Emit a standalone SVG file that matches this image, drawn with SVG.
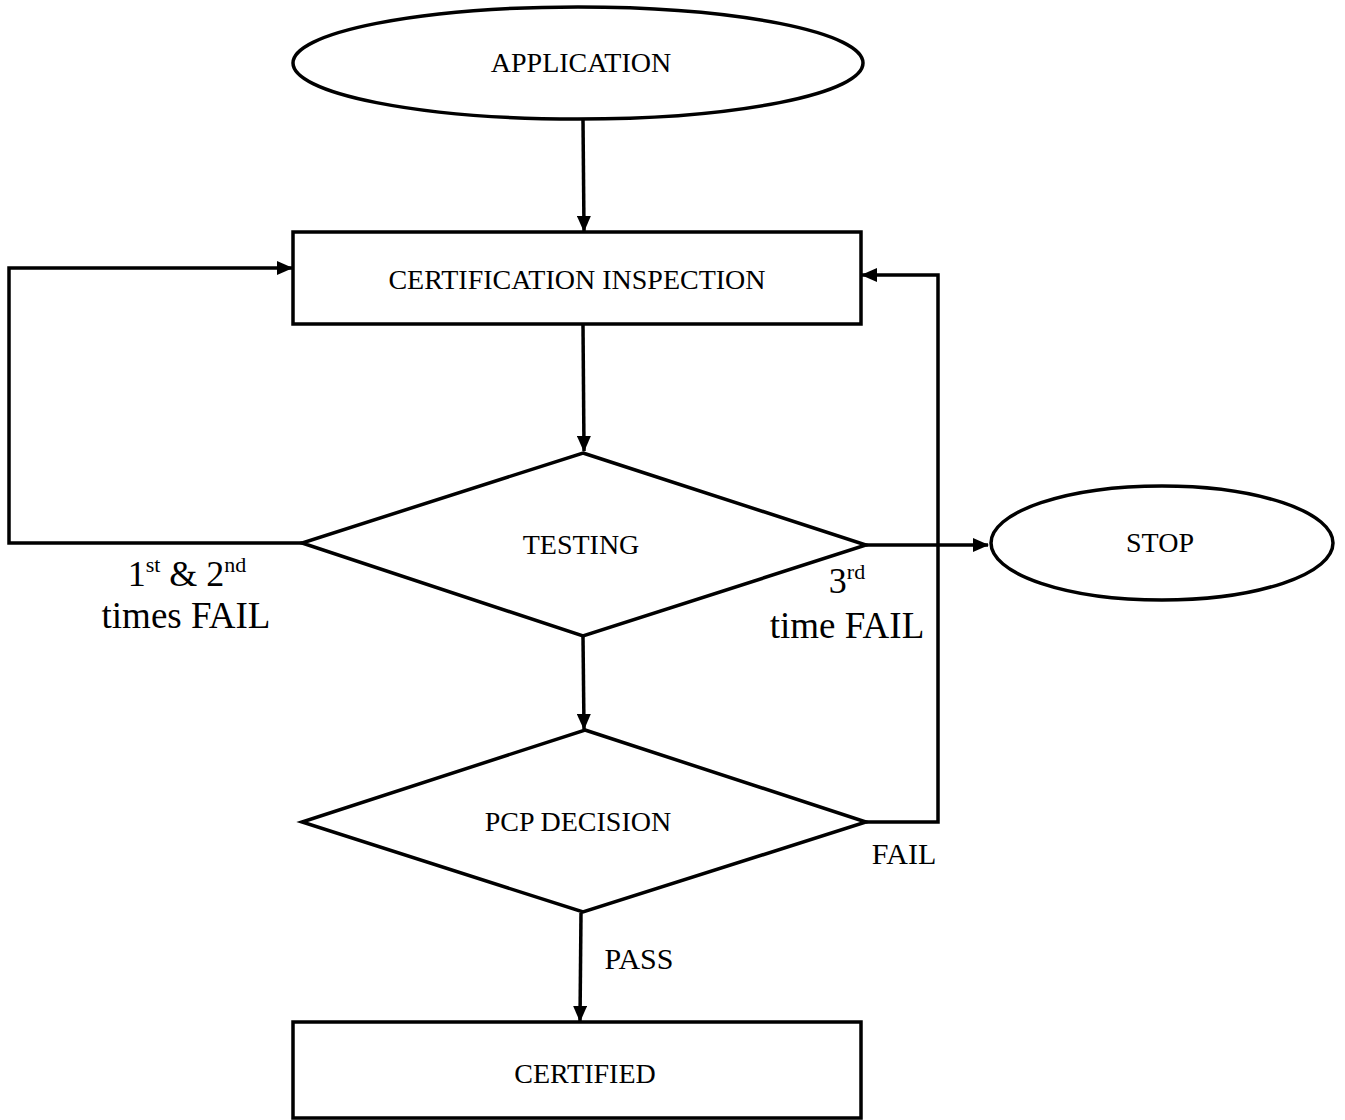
<svg xmlns="http://www.w3.org/2000/svg" width="1345" height="1120" viewBox="0 0 1345 1120">
<defs>
<marker id="ah" markerUnits="userSpaceOnUse" markerWidth="16" markerHeight="14" refX="15" refY="7" orient="auto">
<path d="M0,0 L16,7 L0,14 Z" fill="#000"/>
</marker>
<style>
.sh{fill:#fff;stroke:#000;stroke-width:3.5}
.ln{fill:none;stroke:#000;stroke-width:3.5}
.t{font-family:"Liberation Serif","Times New Roman",serif;font-size:28px;text-anchor:middle;fill:#000}
.lb{font-family:"Liberation Serif","Times New Roman",serif;fill:#000}
</style>
</defs>
<rect width="1345" height="1120" fill="#fff"/>
<g id="connectors">
<path class="ln" d="M583,120 L584,231" marker-end="url(#ah)"/>
<path class="ln" d="M583,325 L584,451" marker-end="url(#ah)"/>
<path class="ln" d="M583,637 L584,729" marker-end="url(#ah)"/>
<path class="ln" d="M581,913 L580,1021" marker-end="url(#ah)"/>
<path class="ln" d="M302,543 L9,543 L9,268 L292,268" marker-end="url(#ah)"/>
<path class="ln" d="M866,822 L938,822 L938,275 L862,275" marker-end="url(#ah)"/>
<path class="ln" d="M866,545 L988,545" marker-end="url(#ah)"/>
<text class="lb" font-size="36" x="187" y="586" text-anchor="middle">1<tspan font-size="22" dy="-14">st</tspan><tspan dy="14"> &amp; 2</tspan><tspan font-size="22" dy="-14">nd</tspan></text>
<text class="lb" font-size="37" x="186" y="628" text-anchor="middle">times FAIL</text>
<text class="lb" font-size="36" x="847" y="593" text-anchor="middle">3<tspan font-size="22" dy="-14">rd</tspan></text>
<text class="lb" font-size="37" x="847" y="638" text-anchor="middle">time FAIL</text>
<text class="lb" font-size="30" x="904" y="864" text-anchor="middle">FAIL</text>
<text class="lb" font-size="30" x="639" y="969" text-anchor="middle">PASS</text>
</g>
<g id="application">
<ellipse class="sh" cx="578" cy="63" rx="285" ry="56"/>
<text class="t" x="581" y="72">APPLICATION</text>
</g>
<g id="inspection">
<rect class="sh" x="293" y="232" width="568" height="92"/>
<text class="t" x="577" y="289">CERTIFICATION INSPECTION</text>
</g>
<g id="testing">
<polygon class="sh" points="583,453 866,545 583,636 302,543"/>
<text class="t" x="581" y="554">TESTING</text>
</g>
<g id="stop">
<ellipse class="sh" cx="1162" cy="543" rx="171" ry="57"/>
<text class="t" x="1160" y="552">STOP</text>
</g>
<g id="pcp">
<polygon class="sh" points="585,730 866,822 583,912 302,822"/>
<text class="t" x="578" y="831">PCP DECISION</text>
</g>
<g id="certified">
<rect class="sh" x="293" y="1022" width="568" height="96"/>
<text class="t" x="585" y="1083">CERTIFIED</text>
</g>
</svg>
